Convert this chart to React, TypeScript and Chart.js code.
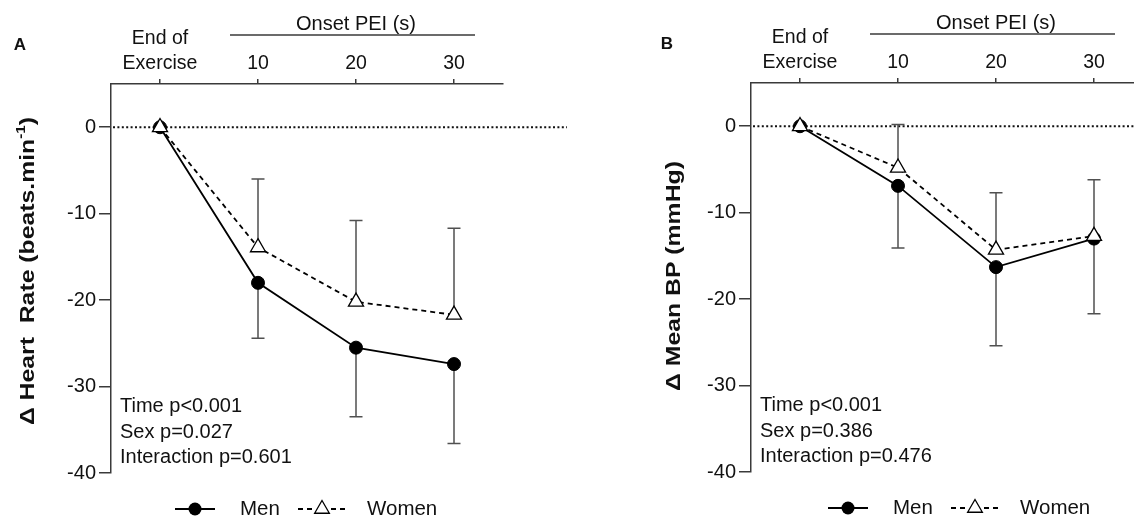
import React, { useEffect, useRef } from "react";
import { Chart, registerables } from "chart.js";

Chart.register(...registerables);

// ---------- data ----------
const timeIndex = [0, 1, 2, 3];
const timeLabels: (string | string[])[] = [["End of", "Exercise"], "10", "20", "30"];
const yTickValues = [-40, -30, -20, -10, 0];

const hrMen = [0, -18, -25.5, -27.4];
const hrMenSD = [0, 6.4, 8.0, 9.2];
const hrWomen = [0, -13.9, -20.2, -21.7];
const hrWomenSD = [0, 7.9, 9.4, 10.0];

const bpMen = [0, -6.9, -16.3, -13.0];
const bpMenSD = [0, 7.2, 9.1, 8.7];
const bpWomen = [0, -4.8, -14.3, -12.7];
const bpWomenSD = [0, 5.0, 6.6, 6.5];

const hrStats = ["Time p<0.001", "Sex p=0.027", "Interaction p=0.601"];
const bpStats = ["Time p<0.001", "Sex p=0.386", "Interaction p=0.476"];

const seriesNames = ["Men", "Women"];
const onsetTitle = "Onset PEI (s)";

const FONT = "'Liberation Sans', Arial, Helvetica, sans-serif";
const AXIS_COLOR = "#3a3a3a";
const TEXT_COLOR = "#111";

type PanelProps = {
  letter: string;
  titleMain: string;
  titleSup: string;
  titleTail: string;
  titleX: number;
  titleY: number;
  men: number[];
  menSD: number[];
  women: number[];
  womenSD: number[];
  stats: string[];
  left: number;
  top: number;
  legendShift: number;
  letterX: number;
};

const CW = 567;
const CH = 520;

function Panel(p: PanelProps) {
  const ref = useRef<HTMLCanvasElement | null>(null);

  useEffect(() => {
    const canvas = ref.current;
    if (!canvas) return;

    const errorBars = {
      id: "errorBarsAndZero",
      beforeDatasetsDraw(chart: any) {
        const { ctx, chartArea } = chart;
        const xs = chart.scales.x;
        const ys = chart.scales.y;
        // zero dotted line
        ctx.save();
        ctx.strokeStyle = "#111";
        ctx.lineWidth = 2;
        ctx.setLineDash([2, 2.4]);
        const y0 = ys.getPixelForValue(0);
        ctx.beginPath();
        ctx.moveTo(chartArea.left + 2, y0);
        ctx.lineTo(chartArea.right + 80, y0);
        ctx.stroke();
        ctx.restore();

        ctx.save();
        ctx.strokeStyle = "#505050";
        ctx.lineWidth = 1.5;
        chart.data.datasets.forEach((ds: any) => {
          ds.data.forEach((pt: any, i: number) => {
            const e = ds.errors[i];
            if (!e) return;
            const px = xs.getPixelForValue(pt.x);
            const py = ys.getPixelForValue(pt.y);
            const pe = ys.getPixelForValue(pt.y + ds.errDir * e);
            ctx.beginPath();
            ctx.moveTo(px, py);
            ctx.lineTo(px, pe);
            ctx.moveTo(px - 6.5, pe);
            ctx.lineTo(px + 6.5, pe);
            ctx.stroke();
          });
        });
        ctx.restore();
      },
    };

    const decor = {
      id: "decor",
      afterDraw(chart: any) {
        const { ctx } = chart;
        ctx.save();
        ctx.fillStyle = TEXT_COLOR;

        // panel letter
        ctx.font = `bold 17px ${FONT}`;
        ctx.textAlign = "center";
        ctx.textBaseline = "middle";
        ctx.fillText(p.letter, p.letterX, 45);

        // Onset header
        ctx.font = `20px ${FONT}`;
        ctx.textAlign = "center";
        ctx.textBaseline = "alphabetic";
        ctx.fillText(onsetTitle, 356, 30);
        ctx.strokeStyle = AXIS_COLOR;
        ctx.lineWidth = 1.3;
        ctx.beginPath();
        ctx.moveTo(230, 35);
        ctx.lineTo(475, 35);
        ctx.stroke();

        // y title with superscript (glyphs slightly elongated along the text)
        ctx.save();
        ctx.translate(p.titleX, p.titleY);
        ctx.rotate(-Math.PI / 2);
        ctx.scale(1.18, 1);
        const mainFont = `bold 21px ${FONT}`;
        const supFont = `bold 13px ${FONT}`;
        ctx.font = mainFont;
        const w1 = ctx.measureText(p.titleMain).width;
        const w3 = p.titleTail ? ctx.measureText(p.titleTail).width : 0;
        ctx.font = supFont;
        const w2 = p.titleSup ? ctx.measureText(p.titleSup).width : 0;
        const total = w1 + w2 + w3;
        let cx = -total / 2;
        ctx.textAlign = "left";
        ctx.textBaseline = "alphabetic";
        ctx.font = mainFont;
        ctx.fillText(p.titleMain, cx, 0);
        cx += w1;
        if (p.titleSup) {
          ctx.font = supFont;
          ctx.fillText(p.titleSup, cx, -9);
          cx += w2;
        }
        if (p.titleTail) {
          ctx.font = mainFont;
          ctx.fillText(p.titleTail, cx, 0);
        }
        ctx.restore();

        // statistics text
        ctx.font = `20px ${FONT}`;
        ctx.textAlign = "left";
        ctx.textBaseline = "alphabetic";
        p.stats.forEach((s, i) => ctx.fillText(s, 120, 411.7 + i * 25.8));

        // legend
        const ly = 509;
        const sx = p.legendShift;
        ctx.strokeStyle = "#000";
        ctx.lineWidth = 1.8;
        ctx.setLineDash([]);
        ctx.beginPath();
        ctx.moveTo(175 + sx, ly);
        ctx.lineTo(215 + sx, ly);
        ctx.stroke();
        ctx.fillStyle = "#000";
        ctx.beginPath();
        ctx.arc(195 + sx, ly, 6.5, 0, Math.PI * 2);
        ctx.fill();
        ctx.fillStyle = TEXT_COLOR;
        ctx.font = `20.5px ${FONT}`;
        ctx.textBaseline = "middle";
        ctx.fillText(seriesNames[0], 240 + sx, ly);

        ctx.setLineDash([5, 4]);
        ctx.beginPath();
        ctx.moveTo(298 + sx, ly);
        ctx.lineTo(313 + sx, ly);
        ctx.moveTo(331 + sx, ly);
        ctx.lineTo(345 + sx, ly);
        ctx.stroke();
        ctx.setLineDash([]);
        const r = 8.5;
        const tx = 322 + sx;
        ctx.beginPath();
        ctx.moveTo(tx, ly - r);
        ctx.lineTo(tx + r * 0.866, ly + r / 2);
        ctx.lineTo(tx - r * 0.866, ly + r / 2);
        ctx.closePath();
        ctx.fillStyle = "#fff";
        ctx.fill();
        ctx.lineWidth = 1.3;
        ctx.stroke();
        ctx.fillStyle = TEXT_COLOR;
        ctx.fillText(seriesNames[1], 367 + sx, ly);
        ctx.restore();
      },
    };

    const chart = new Chart(canvas, {
      type: "line",
      data: {
        datasets: [
          {
            label: seriesNames[0],
            data: p.men.map((y, i) => ({ x: timeIndex[i], y })),
            borderColor: "#000",
            borderWidth: 1.8,
            pointStyle: "circle",
            pointRadius: 6.5,
            pointBackgroundColor: "#000",
            pointBorderColor: "#000",
            pointBorderWidth: 1,
            order: 1,
            errors: p.menSD,
            errDir: -1,
          } as any,
          {
            label: seriesNames[1],
            data: p.women.map((y, i) => ({ x: timeIndex[i], y })),
            borderColor: "#000",
            borderWidth: 1.8,
            borderDash: [5, 4],
            pointStyle: "triangle",
            pointRadius: 8.7,
            pointBackgroundColor: "#fff",
            pointBorderColor: "#000",
            pointBorderWidth: 1.3,
            order: 0,
            errors: p.womenSD,
            errDir: 1,
          } as any,
        ],
      },
      options: {
        responsive: false,
        animation: false,
        events: [],
        layout: { padding: { left: 0, top: 0, right: CW - 503, bottom: CH - 473 } },
        plugins: { legend: { display: false }, tooltip: { enabled: false } },
        scales: {
          x: {
            type: "linear",
            position: "top",
            min: -0.5,
            max: 3.5,
            afterBuildTicks: (s: any) => {
              s.ticks = timeIndex.map((v) => ({ value: v }));
            },
            afterFit: (s: any) => {
              s.height = 84;
            },
            ticks: {
              callback: (v: any) => timeLabels[v as number],
              font: { family: FONT, size: 19.5, lineHeight: 1.28 },
              color: TEXT_COLOR,
              padding: 3,
              maxRotation: 0,
              autoSkip: false,
            },
            grid: {
              drawOnChartArea: false,
              drawTicks: true,
              tickLength: 5,
              color: AXIS_COLOR,
              lineWidth: 1.5,
            },
            border: { display: true, color: AXIS_COLOR, width: 1.5 },
          },
          y: {
            type: "linear",
            min: -40,
            max: 5,
            afterBuildTicks: (s: any) => {
              s.ticks = yTickValues.map((v) => ({ value: v }));
            },
            afterFit: (s: any) => {
              s.width = 111;
            },
            ticks: {
              callback: (v: any) => String(v),
              font: { family: FONT, size: 20 },
              color: TEXT_COLOR,
              padding: 3,
            },
            grid: {
              drawOnChartArea: false,
              drawTicks: true,
              tickLength: 12,
              color: AXIS_COLOR,
              lineWidth: 1.5,
            },
            border: { display: true, color: AXIS_COLOR, width: 1.5 },
          },
        },
      } as any,
      plugins: [errorBars, decor],
    });
    return () => chart.destroy();
  }, []);

  return (
    <canvas
      ref={ref}
      width={CW}
      height={CH}
      style={{ position: "absolute", left: p.left, top: p.top, width: CW, height: CH }}
    />
  );
}

export default function App() {
  return (
    <div
      style={{
        position: "fixed",
        left: 0,
        top: 0,
        width: 1134,
        height: 518,
        overflow: "hidden",
        background: "#fff",
      }}
    >
      <Panel
        letter="A"
        letterX={20}
        titleMain={"Δ Heart  Rate (beats.min"}
        titleSup={"-1"}
        titleTail={")"}
        titleX={33.5}
        titleY={271}
        men={hrMen}
        menSD={hrMenSD}
        women={hrWomen}
        womenSD={hrWomenSD}
        stats={hrStats}
        left={0}
        top={0}
        legendShift={0}
      />
      <Panel
        letter="B"
        letterX={27}
        titleMain={"Δ Mean BP (mmHg)"}
        titleSup={""}
        titleTail={""}
        titleX={40}
        titleY={277}
        men={bpMen}
        menSD={bpMenSD}
        women={bpWomen}
        womenSD={bpWomenSD}
        stats={bpStats}
        left={640}
        top={-1}
        legendShift={13}
      />
    </div>
  );
}
